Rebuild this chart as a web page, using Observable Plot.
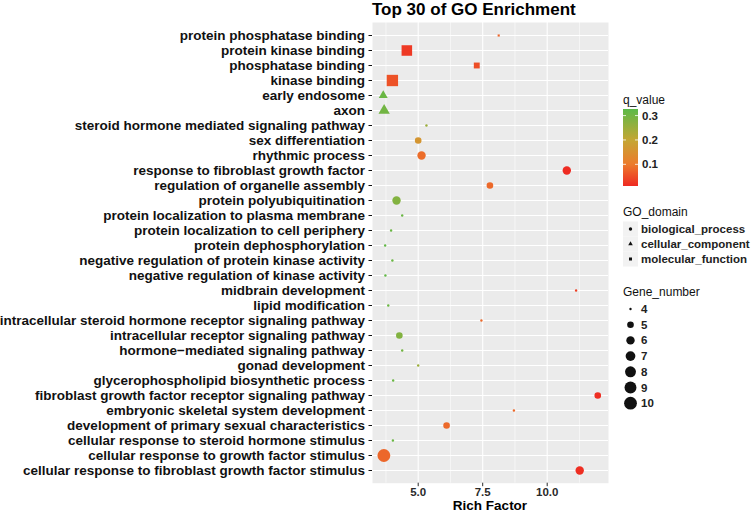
<!DOCTYPE html>
<html><head><meta charset="utf-8">
<script src="https://cdn.jsdelivr.net/npm/d3@7"></script>
<script src="https://cdn.jsdelivr.net/npm/@observablehq/plot@0.6"></script>
<style>body{margin:0;background:#fff}#chart{width:752px;height:513px}</style>
</head><body><div id="chart"></div>
<script>
const terms = [
  "protein phosphatase binding","protein kinase binding","phosphatase binding","kinase binding",
  "early endosome","axon","steroid hormone mediated signaling pathway","sex differentiation",
  "rhythmic process","response to fibroblast growth factor","regulation of organelle assembly",
  "protein polyubiquitination","protein localization to plasma membrane","protein localization to cell periphery",
  "protein dephosphorylation","negative regulation of protein kinase activity","negative regulation of kinase activity",
  "midbrain development","lipid modification","intracellular steroid hormone receptor signaling pathway",
  "intracellular receptor signaling pathway","hormone\u2212mediated signaling pathway","gonad development",
  "glycerophospholipid biosynthetic process","fibroblast growth factor receptor signaling pathway",
  "embryonic skeletal system development","development of primary sexual characteristics",
  "cellular response to steroid hormone stimulus","cellular response to growth factor stimulus",
  "cellular response to fibroblast growth factor stimulus"
];
const richFactor = [8.12,4.56,7.27,4.0,3.645,3.68,5.32,5.0,5.13,10.76,7.78,4.16,4.38,3.95,3.72,4.0,3.73,11.12,3.84,7.45,4.27,4.38,5.0,4.03,11.96,8.71,6.1,4.02,3.67,11.26];
const qValue = [0.075,0.028,0.05,0.055,0.31,0.30,0.25,0.16,0.085,0.012,0.08,0.28,0.31,0.31,0.32,0.31,0.32,0.035,0.31,0.08,0.28,0.30,0.25,0.31,0.015,0.08,0.08,0.31,0.078,0.015];
const geneNumber = [4,9,5,10,5,6,4,5,6,6,5,6,4,4,4,4,4,4,4,4,5,4,4,4,5,4,5,4,10,6];
const goDomain = ["molecular_function","molecular_function","molecular_function","molecular_function",
  "cellular_component","cellular_component",
  "biological_process","biological_process","biological_process","biological_process","biological_process",
  "biological_process","biological_process","biological_process","biological_process","biological_process",
  "biological_process","biological_process","biological_process","biological_process","biological_process",
  "biological_process","biological_process","biological_process","biological_process","biological_process",
  "biological_process","biological_process","biological_process","biological_process"];
const domains = ["biological_process","cellular_component","molecular_function"];
const xTicks = [5, 7.5, 10];
const xMinor = [3.75, 6.25, 8.75, 11.25];
const qTicks = [0.1, 0.2, 0.3];
const geneTicks = [4,5,6,7,8,9,10];
const titleText = "Top 30 of GO Enrichment";
const xLabel = "Rich Factor";

const data = terms.map((t, i) => ({term: t, rich: richFactor[i], q: qValue[i], gene: geneNumber[i], domain: goDomain[i]}));
const geneArea = g => Math.sqrt((g - 4) / 6);
const FONT = "'Liberation Sans', Arial, Helvetica, sans-serif";

const plot = Plot.plot({
  width: 752, height: 513,
  marginTop: 22, marginBottom: 30.3, marginLeft: 372, marginRight: 144,
  style: {fontFamily: FONT, background: "#fff"},
  x: {domain: [3.229, 12.376], label: null},
  y: {type: "point", domain: terms, padding: 0.6, label: null},
  color: {type: "linear", domain: [0.011, 0.1, 0.2, 0.327], range: ["#EE2A22", "#EC7B2C", "#C4A734", "#5CB947"]},
  r: {type: "linear", domain: [0, 1], range: [1.2, 6.4]},
  symbol: {domain: domains, range: ["circle", "triangle", "square"]},
  marks: [
    Plot.frame({fill: "#EBEBEB", stroke: null}),
    Plot.ruleX(xMinor, {stroke: "#fff", strokeWidth: 0.55}),
    Plot.ruleX(xTicks, {stroke: "#fff", strokeWidth: 1.1}),
    Plot.ruleY(terms, {y: d => d, stroke: "#fff", strokeWidth: 1.1}),
    Plot.axisX({ticks: xTicks, tickFormat: d => d.toFixed(1), tickSize: 3.5, tickPadding: 1.5, fontSize: 11.5, fontWeight: "bold", color: "#2a2a2a", label: null}),
    Plot.axisY({tickSize: 3.5, tickPadding: 4, fontSize: 13.5, fontWeight: "bold", color: "#111", label: null}),
    Plot.dot(data, {x: "rich", y: "term", r: d => geneArea(d.gene), fill: "q", symbol: "domain", stroke: null})
  ]
});
document.getElementById("chart").appendChild(plot);

const svg = d3.select(plot);
const colorScale = plot.scale("color");
const rScale = plot.scale("r");

// title and x label
svg.append("text").attr("x", 372).attr("y", 14.5).attr("text-anchor", "start").attr("font-family", FONT).attr("font-size", 17)
  .attr("font-weight", "bold").attr("fill", "#000").text(titleText);
svg.append("text").attr("x", 490).attr("y", 510).attr("text-anchor", "middle").attr("font-family", FONT)
  .attr("font-size", 13.5).attr("font-weight", "bold").attr("fill", "#000").text(xLabel);

const lg = svg.append("g").attr("font-family", FONT).attr("text-anchor", "start");
// q_value colorbar
lg.append("text").attr("x", 623).attr("y", 104).attr("font-size", 12).attr("fill", "#111").text("q_value");
const cbTop = 109, cbBot = 186, cbX = 623, cbW = 15;
const qd = colorScale.domain;
const q0 = qd[0], q1 = qd[qd.length - 1];
const qy = v => cbBot - (v - q0) / (q1 - q0) * (cbBot - cbTop);
const defs = svg.append("defs");
const grad = defs.append("linearGradient").attr("id", "qgrad").attr("x1", 0).attr("x2", 0).attr("y1", 1).attr("y2", 0);
d3.range(0, 1.0001, 0.025).forEach(t => {
  grad.append("stop").attr("offset", t).attr("stop-color", colorScale.apply(q0 + t * (q1 - q0)));
});
lg.append("rect").attr("x", cbX).attr("y", cbTop).attr("width", cbW).attr("height", cbBot - cbTop).attr("fill", "url(#qgrad)");
qTicks.forEach(v => {
  const y = qy(v);
  lg.append("line").attr("x1", cbX).attr("x2", cbX + 3).attr("y1", y).attr("y2", y).attr("stroke", "#fff").attr("stroke-width", 0.8);
  lg.append("line").attr("x1", cbX + cbW - 3).attr("x2", cbX + cbW).attr("y1", y).attr("y2", y).attr("stroke", "#fff").attr("stroke-width", 0.8);
  lg.append("text").attr("x", 642).attr("y", y).attr("dy", "0.35em").attr("font-size", 11.5).attr("font-weight", "bold").attr("fill", "#222").text(v.toFixed(1));
});

// GO_domain legend
lg.append("text").attr("x", 623).attr("y", 216).attr("font-size", 12).attr("fill", "#111").text("GO_domain");
const symMap = {biological_process: d3.symbolCircle, cellular_component: d3.symbolTriangle, molecular_function: d3.symbolSquare};
domains.forEach((d, i) => {
  const cy = 229 + i * 15;
  lg.append("rect").attr("x", 623).attr("y", cy - 7.5).attr("width", 15).attr("height", 15).attr("fill", "#F2F2F2");
  lg.append("path").attr("transform", `translate(630.5,${cy})`).attr("d", d3.symbol(symMap[d], Math.PI * 1.7 * 1.7)()).attr("fill", "#111");
  lg.append("text").attr("x", 641).attr("y", cy).attr("dy", "0.35em").attr("font-size", 11.5).attr("font-weight", "bold").attr("fill", "#222").text(d);
});

// Gene_number legend
lg.append("text").attr("x", 623).attr("y", 296).attr("font-size", 12).attr("fill", "#111").text("Gene_number");
geneTicks.forEach((g, i) => {
  const cy = 309 + i * 15.7;
  lg.append("circle").attr("cx", 630.5).attr("cy", cy).attr("r", rScale.apply(geneArea(g))).attr("fill", "#111");
  lg.append("text").attr("x", 641).attr("y", cy).attr("dy", "0.35em").attr("font-size", 11.5).attr("font-weight", "bold").attr("fill", "#222").text(g);
});
</script>
</body></html>
